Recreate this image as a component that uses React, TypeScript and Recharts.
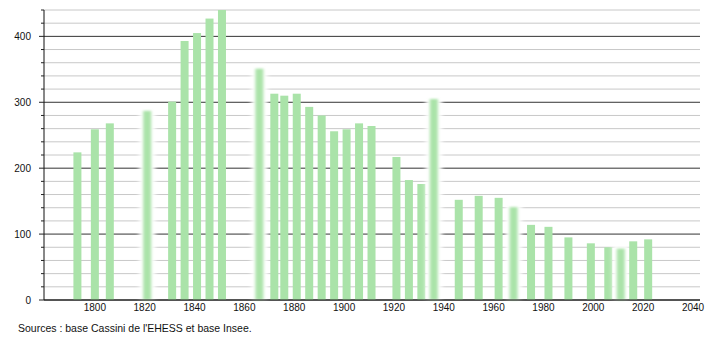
import React from 'react';
import { BarChart, Bar, XAxis, YAxis, CartesianGrid } from 'recharts';

const years = [1793, 1800, 1806, 1821, 1831, 1836, 1841, 1846, 1851, 1866, 1872, 1876, 1881, 1886, 1891, 1896, 1901, 1906, 1911, 1921, 1926, 1931, 1936, 1946, 1954, 1962, 1968, 1975, 1982, 1990, 1999, 2006, 2011, 2016, 2022];
const population = [224, 259, 268, 287, 301, 393, 405, 427, 440, 351, 313, 310, 313, 293, 280, 256, 259, 268, 264, 217, 182, 176, 305, 152, 158, 155, 141, 114, 111, 95, 86, 80, 78, 89, 92];
const blurredYears = [1821, 1866, 1936, 1968, 2011];
const xTicks = [1800, 1820, 1840, 1860, 1880, 1900, 1920, 1940, 1960, 1980, 2000, 2020, 2040];
const yMajor = [0, 100, 200, 300, 400];
const yMinor = [20, 40, 60, 80, 120, 140, 160, 180, 220, 240, 260, 280, 320, 340, 360, 380, 420, 440];
const yAll = [0, 20, 40, 60, 80, 100, 120, 140, 160, 180, 200, 220, 240, 260, 280, 300, 320, 340, 360, 380, 400, 420, 440];
const sourceText = "Sources : base Cassini de l'EHESS et base Insee.";

const data = years.map((y, i) => ({ year: y, pop: population[i], blurred: blurredYears.includes(y) }));

const BAR = '#aae3a9';
const FONT = '"Liberation Sans", Arial, sans-serif';

const BarShape = (props: any) => {
  const { x, y, width, height, payload } = props;
  if (payload && payload.blurred) {
    return (
      <g>
        <rect x={x - 4} y={y - 3} width={width + 8} height={height + 3} fill="#fff" filter="url(#halo)" />
        <rect x={x} y={y} width={width} height={height} fill={BAR} filter="url(#soft)" />
      </g>
    );
  }
  return <rect x={x} y={y} width={width} height={height} fill={BAR} />;
};

const YTick = (props: any) => {
  const { x, y, payload } = props;
  const v = payload.value;
  const major = yMajor.includes(v);
  return (
    <g>
      <line x1={x - (major ? 5 : 3)} x2={x} y1={y} y2={y} stroke="#222" strokeWidth={1} />
      {major ? (
        <text x={x - 13} y={y} dy="0.35em" textAnchor="end" fontSize={10} fontFamily={FONT} fill="#111">
          {v}
        </text>
      ) : null}
    </g>
  );
};

export default function App() {
  return (
    <div style={{ position: 'fixed', left: 0, top: 0, width: 710, height: 340, background: '#fff' }}>
      <BarChart width={710} height={340} data={data} margin={{ top: 10, right: 10, bottom: 0, left: 0 }} barSize={8}>
        <defs>
          <filter id="soft" x="-100%" y="-10%" width="300%" height="120%">
            <feGaussianBlur stdDeviation="1.8 1" />
          </filter>
          <filter id="halo" x="-100%" y="-10%" width="300%" height="120%">
            <feGaussianBlur stdDeviation="2 1.5" />
          </filter>
        </defs>
        <CartesianGrid vertical={false} horizontalValues={yMinor} stroke="#c8c8c8" strokeWidth={1} />
        <CartesianGrid vertical={false} horizontalValues={yMajor} stroke="#333" strokeWidth={1} />
        <XAxis
          dataKey="year"
          type="number"
          domain={[1779.6, 2042.8]}
          ticks={xTicks}
          allowDataOverflow
          tickLine={false}
          tickSize={0}
          tickMargin={4}
          height={40}
          axisLine={{ stroke: '#111' }}
          tick={{ fontSize: 10, fontFamily: FONT, fill: '#111' }}
        />
        <YAxis
          type="number"
          domain={[0, 440]}
          ticks={yAll}
          interval={0}
          width={44}
          tickLine={false}
          tickSize={0}
          tickMargin={0}
          axisLine={{ stroke: '#111' }}
          tick={<YTick />}
        />
        <Bar dataKey="pop" isAnimationActive={false} shape={<BarShape />} />
      </BarChart>
      <div style={{ position: 'absolute', left: 18, top: 322, fontSize: 10.5, fontFamily: FONT, color: '#111', whiteSpace: 'nowrap' }}>
        {sourceText}
      </div>
    </div>
  );
}
